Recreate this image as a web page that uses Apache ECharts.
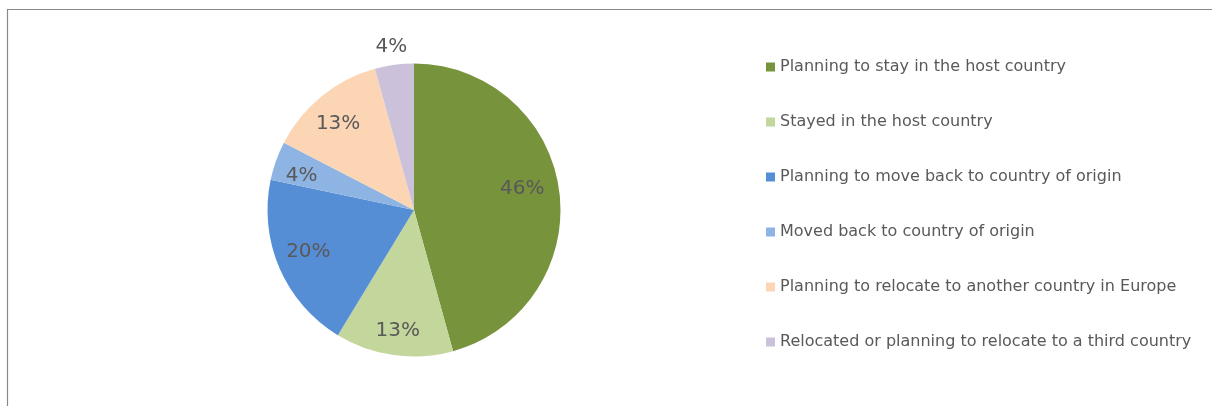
<!DOCTYPE html>
<html>
<head>
<meta charset="utf-8">
<script src="https://cdn.jsdelivr.net/npm/echarts@6/dist/echarts.min.js"></script>
<style>
  html, body { margin: 0; padding: 0; background: #ffffff; }
  #chart { width: 1212px; height: 406px; }
</style>
</head>
<body>
<div id="chart"></div>
<script>
// Categories and shares (%)
const categories = [
  'Planning to stay in the host country',
  'Stayed in the host country',
  'Planning to move back to country of origin',
  'Moved back to country of origin',
  'Planning to relocate to another country in Europe',
  'Relocated or planning to relocate to a third country'
];
const shares = [45.7, 13.0, 19.6, 4.3, 13.1, 4.3];

// Styling
const sliceColors = ['#77933C', '#C3D69B', '#558ED5', '#8EB4E3', '#FCD5B5', '#CCC1DA'];
const outsideLabel = [false, false, false, false, false, true];   // label just beyond the rim
const labelNudge = [[-8, -5], [0, 5], [2, -5], [-2, 5], [-2, 5], [0, 4]];

const FONT = '"DejaVu Sans", Verdana, sans-serif';
const TEXT = '#595959';
const CENTER = [414, 210];
const R = 146.5;

const pctLabel = p => Math.round(p.value) + '%';

const baseData = categories.map((name, i) => ({
  name: name,
  value: shares[i],
  itemStyle: { color: sliceColors[i] }
}));

// label ring inside the pie
const innerLabels = categories.map((name, i) => ({
  name: name,
  value: shares[i],
  label: { show: !outsideLabel[i], offset: labelNudge[i] }
}));

// label ring just beyond the pie edge
const outerLabels = categories.map((name, i) => ({
  name: name,
  value: shares[i],
  label: { show: outsideLabel[i], offset: labelNudge[i] }
}));

const labelStyle = {
  position: 'inside',
  formatter: pctLabel,
  fontFamily: FONT,
  fontSize: 20,
  color: TEXT
};

const chart = echarts.init(document.getElementById('chart'), null, { renderer: 'canvas' });
chart.setOption({
  animation: false,
  backgroundColor: '#ffffff',
  graphic: [{
    type: 'rect',
    silent: true,
    shape: { x: 7.5, y: 9.5, width: 1400, height: 600 },
    style: { fill: 'none', stroke: '#898989', lineWidth: 1.2 }
  }],
  legend: {
    orient: 'vertical',
    left: 766,
    top: 58,
    padding: 0,
    icon: 'rect',
    itemWidth: 9,
    itemHeight: 9,
    itemGap: 37,
    selectedMode: false,
    data: categories,
    textStyle: { fontFamily: FONT, fontSize: 16, color: TEXT, lineHeight: 18 }
  },
  series: [
    {
      type: 'pie',
      center: CENTER,
      radius: [0, R],
      startAngle: 90,
      clockwise: true,
      silent: true,
      avoidLabelOverlap: false,
      label: { show: false },
      labelLine: { show: false },
      itemStyle: { borderWidth: 0 },
      data: baseData
    },
    {
      type: 'pie',
      center: CENTER,
      radius: [R * 0.56, R],
      startAngle: 90,
      clockwise: true,
      silent: true,
      avoidLabelOverlap: false,
      itemStyle: { color: 'rgba(0,0,0,0)', borderWidth: 0 },
      label: labelStyle,
      labelLine: { show: false },
      data: innerLabels
    },
    {
      type: 'pie',
      center: CENTER,
      radius: [R, R * 1.26],
      startAngle: 90,
      clockwise: true,
      silent: true,
      avoidLabelOverlap: false,
      itemStyle: { color: 'rgba(0,0,0,0)', borderWidth: 0 },
      label: labelStyle,
      labelLine: { show: false },
      data: outerLabels
    }
  ]
});
</script>
</body>
</html>
